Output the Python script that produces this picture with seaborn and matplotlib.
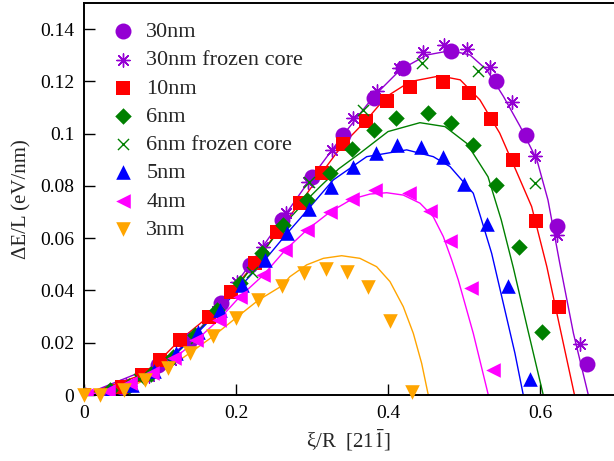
import matplotlib
matplotlib.use("Agg")
import matplotlib.pyplot as plt
from matplotlib.ticker import FormatStrFormatter
import seaborn as sns

# ---- values ----
# symbols (simulation points)
x_30nm = [0.0, 0.05, 0.098, 0.14, 0.18, 0.218, 0.26, 0.30, 0.341, 0.381, 0.420, 0.4825, 0.5417, 0.5816, 0.622, 0.6614]
y_30nm = [0.0, 0.003, 0.0115, 0.021, 0.0351, 0.0497, 0.067, 0.0835, 0.0995, 0.1137, 0.1250, 0.1318, 0.1203, 0.0995, 0.0647, 0.0118]

x_30nm_fc = [0.0, 0.025, 0.055, 0.085, 0.115, 0.145, 0.175, 0.201, 0.236, 0.266, 0.295, 0.326, 0.354, 0.385,
             0.415, 0.446, 0.474, 0.504, 0.534, 0.563, 0.593, 0.623, 0.653]
y_30nm_fc = [0.0, 0.0005, 0.004, 0.0072, 0.0135, 0.022, 0.032, 0.0434, 0.0567, 0.0695, 0.0816, 0.0938, 0.1059, 0.1165,
             0.125, 0.1314, 0.1339, 0.1324, 0.1257, 0.1123, 0.0915, 0.0612, 0.0195]

x_10nm = [0.0, 0.05, 0.076, 0.10, 0.126, 0.164, 0.193, 0.225, 0.254, 0.284, 0.313, 0.341, 0.371, 0.399, 0.429,
          0.473, 0.506, 0.536, 0.565, 0.595, 0.625]
y_10nm = [0.0, 0.003, 0.0077, 0.0134, 0.021, 0.030, 0.0395, 0.0504, 0.0625, 0.0733, 0.0851, 0.0960, 0.1050, 0.1125,
          0.1178, 0.1199, 0.1154, 0.1055, 0.0900, 0.0667, 0.0338]

x_6nm = [0.0, 0.034, 0.059, 0.088, 0.117, 0.146, 0.175, 0.205, 0.234, 0.262, 0.293, 0.324, 0.352, 0.381, 0.410,
         0.453, 0.4825, 0.512, 0.542, 0.572, 0.602]
y_6nm = [0.0, 0.002, 0.0035, 0.008, 0.0145, 0.023, 0.0325, 0.0427, 0.0542, 0.065, 0.0746, 0.0848, 0.0940, 0.1014,
         0.1059, 0.1078, 0.1042, 0.0957, 0.0804, 0.0565, 0.0240]

x_6nm_fc = [0.0, 0.0725, 0.147, 0.2215, 0.296, 0.3675, 0.4447, 0.5188, 0.5934]
y_6nm_fc = [0.0, 0.006, 0.022, 0.047, 0.0816, 0.1091, 0.1272, 0.1238, 0.0813]

x_5nm = [0.005, 0.034, 0.063, 0.092, 0.121, 0.150, 0.179, 0.2075, 0.238, 0.267, 0.296, 0.325, 0.354, 0.384,
         0.412, 0.444, 0.473, 0.500, 0.530, 0.558, 0.587]
y_5nm = [0.0, 0.001, 0.004, 0.009, 0.016, 0.024, 0.0325, 0.0421, 0.0517, 0.0618, 0.0710, 0.0795, 0.0873, 0.0925,
         0.0957, 0.0950, 0.0910, 0.0808, 0.0655, 0.0417, 0.0060]

x_4nm = [0.003, 0.032, 0.061, 0.090, 0.119, 0.148, 0.177, 0.205, 0.236, 0.265, 0.293, 0.324, 0.353, 0.383,
         0.427, 0.455, 0.482, 0.509, 0.538]
y_4nm = [0.0, 0.0015, 0.0045, 0.0085, 0.014, 0.021, 0.0287, 0.0376, 0.0459, 0.0555, 0.0631, 0.0701, 0.0750, 0.0786,
         0.0772, 0.0703, 0.0590, 0.0408, 0.0096]

x_3nm = [0.0, 0.021, 0.052, 0.080, 0.111, 0.140, 0.170, 0.200, 0.229, 0.260, 0.289, 0.319, 0.346, 0.374, 0.402, 0.431]
y_3nm = [0.0, 0.0, 0.002, 0.0057, 0.0104, 0.0162, 0.0225, 0.0295, 0.0362, 0.0417, 0.0466, 0.0481, 0.0470, 0.0414,
         0.0283, 0.0013]

# fitted curves
cx_30nm = [0.0, 0.098, 0.14, 0.18, 0.218, 0.26, 0.30, 0.341, 0.381, 0.416, 0.451, 0.4825, 0.508, 0.530, 0.552,
           0.574, 0.596, 0.6105, 0.626, 0.644, 0.6636]
cy_30nm = [0.0, 0.0115, 0.021, 0.0351, 0.0497, 0.067, 0.0835, 0.0995, 0.1142, 0.1244, 0.1301, 0.1318, 0.1301,
           0.1244, 0.1142, 0.1027, 0.0899, 0.0746, 0.0504, 0.0236, 0.0]

cx_10nm = [0.0, 0.076, 0.10, 0.126, 0.164, 0.193, 0.225, 0.254, 0.284, 0.313, 0.341, 0.371, 0.398, 0.429, 0.468,
           0.495, 0.521, 0.547, 0.571, 0.589, 0.609, 0.626, 0.6454]
cy_10nm = [0.0, 0.0077, 0.0134, 0.021, 0.030, 0.0395, 0.0504, 0.0625, 0.0733, 0.0851, 0.096, 0.105, 0.1142, 0.1199,
           0.1221, 0.1206, 0.1129, 0.1002, 0.0842, 0.0721, 0.0491, 0.0261, 0.0]

cx_6nm = [0.0, 0.034, 0.059, 0.088, 0.117, 0.146, 0.175, 0.205, 0.234, 0.262, 0.293, 0.3105, 0.335, 0.363, 0.40,
          0.442, 0.475, 0.5036, 0.5316, 0.549, 0.565, 0.584, 0.6043]
cy_6nm = [0.0, 0.002, 0.0035, 0.008, 0.0145, 0.023, 0.0325, 0.0427, 0.0542, 0.065, 0.0746, 0.0797, 0.0865, 0.0925,
          0.1008, 0.1042, 0.1027, 0.0963, 0.0835, 0.067, 0.0486, 0.0249, 0.0]

cx_5nm = [0.0, 0.034, 0.063, 0.092, 0.121, 0.150, 0.179, 0.2075, 0.238, 0.267, 0.2842, 0.328, 0.372, 0.4246,
          0.4596, 0.4816, 0.5122, 0.522, 0.5364, 0.5517, 0.567, 0.578]
cy_5nm = [0.0, 0.001, 0.004, 0.009, 0.016, 0.024, 0.0325, 0.0421, 0.0517, 0.0618, 0.0675, 0.0823, 0.0912, 0.0938,
          0.0912, 0.0874, 0.0772, 0.068, 0.0542, 0.0351, 0.016, 0.0]

cx_4nm = [0.0, 0.032, 0.061, 0.090, 0.119, 0.148, 0.177, 0.205, 0.236, 0.265, 0.293, 0.324, 0.353, 0.3763, 0.3983,
          0.4201, 0.4421, 0.4596, 0.4728, 0.4838, 0.4925, 0.5122, 0.532]
cy_4nm = [0.0, 0.0015, 0.0045, 0.0085, 0.014, 0.021, 0.0287, 0.0376, 0.0459, 0.0555, 0.0631, 0.0701, 0.0750, 0.0769,
          0.0774, 0.0765, 0.0734, 0.0682, 0.0606, 0.0517, 0.0440, 0.0236, 0.0]

cx_3nm = [0.0, 0.021, 0.052, 0.080, 0.111, 0.140, 0.170, 0.200, 0.229, 0.260, 0.271, 0.293, 0.315, 0.339, 0.363,
          0.385, 0.4026, 0.4201, 0.4333, 0.4443, 0.453]
cy_3nm = [0.0, 0.0, 0.002, 0.0057, 0.0104, 0.0162, 0.0225, 0.0295, 0.0362, 0.0417, 0.0453, 0.0498, 0.0523, 0.0533,
          0.0523, 0.0491, 0.0434, 0.0338, 0.0236, 0.0121, 0.0]

xticks = [0, 0.2, 0.4, 0.6]
yticks = [0, 0.02, 0.04, 0.06, 0.08, 0.1, 0.12, 0.14]

PURPLE = "#9400D3"
RED = "#FF0000"
GREEN = "#008000"
BLUE = "#0000FF"
MAGENTA = "#FF00FF"
ORANGE = "#FFA500"


def draw_curves(ax):
    curves = [(cx_30nm, cy_30nm, PURPLE), (cx_10nm, cy_10nm, RED), (cx_6nm, cy_6nm, GREEN),
              (cx_5nm, cy_5nm, BLUE), (cx_4nm, cy_4nm, MAGENTA), (cx_3nm, cy_3nm, ORANGE)]
    for cx, cy, col in curves:
        sns.lineplot(x=cx, y=cy, sort=False, estimator=None, color=col, linewidth=1.0,
                     legend=False, ax=ax, zorder=2)


def draw_points(ax):
    # (label, x, y, marker, colour, size in pt^2, edge width)
    series = [
        ("30nm", x_30nm, y_30nm, "o", PURPLE, 11.5 ** 2, 0),
        ("30nm frozen core", x_30nm_fc, y_30nm_fc, (8, 2, 0), PURPLE, 9.5 ** 2, 1.0),
        ("10nm", x_10nm, y_10nm, "s", RED, 9.8 ** 2, 0),
        ("6nm", x_6nm, y_6nm, "D", GREEN, 8.4 ** 2, 0),
        ("6nm frozen core", x_6nm_fc, y_6nm_fc, "x", GREEN, 8.0 ** 2, 1.0),
        ("5nm", x_5nm, y_5nm, "^", BLUE, 10.5 ** 2, 0),
        ("4nm", x_4nm, y_4nm, "<", MAGENTA, 10.5 ** 2, 0),
        ("3nm", x_3nm, y_3nm, "v", ORANGE, 10.5 ** 2, 0),
    ]
    for label, xs, ys, mk, col, size, lw in series:
        sns.scatterplot(x=xs, y=ys, marker=mk, color=col, s=size, linewidth=lw,
                        label=label, ax=ax, zorder=3, clip_on=False if label == "3nm" else True)


def main():
    sns.set_style("white")
    plt.rcParams["font.family"] = ["Liberation Serif", "DejaVu Serif"]
    plt.rcParams["mathtext.fontset"] = "stix"

    fig = plt.figure(figsize=(6.14, 4.61), dpi=100)
    ax = fig.add_axes([84 / 614, 1 - 395 / 461, 530 / 614, 392 / 461])

    draw_curves(ax)
    draw_points(ax)

    ax.set_xlim(0, 530 / 760)
    ax.set_ylim(0, 0.15)
    ax.set_xticks(xticks)
    ax.set_yticks(yticks)
    ax.xaxis.set_major_formatter(FormatStrFormatter("%g"))
    ax.yaxis.set_major_formatter(FormatStrFormatter("%g"))
    ax.tick_params(direction="in", length=8, width=1, left=True, bottom=True,
                   labelsize=14, colors="black", pad=7)

    for side in ["left", "bottom", "top"]:
        ax.spines[side].set_color("black")
        ax.spines[side].set_linewidth(1.4)
    ax.spines["right"].set_visible(False)

    ax.set_xlabel("ξ/R  [21$\\bar{1}$]", fontsize=15, labelpad=4)
    ax.set_ylabel("ΔE/L (eV/nm)", fontsize=15, labelpad=6)

    ax.legend(loc="upper left", frameon=False, fontsize=16, handletextpad=0.12,
              labelspacing=0.345, borderaxespad=0.44, handlelength=1.84)

    fig.savefig("out.png", dpi=100)
    plt.close(fig)


if __name__ == "__main__":
    main()
